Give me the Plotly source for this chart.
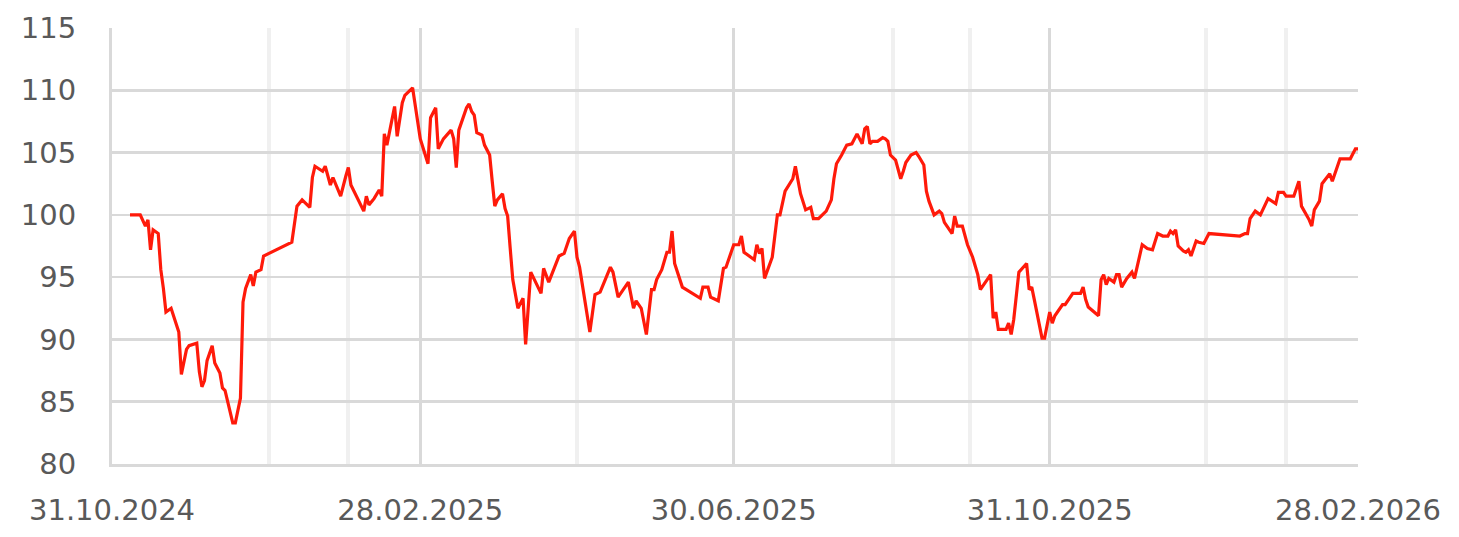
import plotly.graph_objects as go

dates = [
    "2024-11-07", "2024-11-11", "2024-11-13", "2024-11-14", "2024-11-15", "2024-11-16", "2024-11-18", "2024-11-19",
    "2024-11-20", "2024-11-21", "2024-11-23", "2024-11-26", "2024-11-27", "2024-11-29", "2024-11-30", "2024-12-03",
    "2024-12-04", "2024-12-05", "2024-12-06", "2024-12-07", "2024-12-09", "2024-12-10", "2024-12-12", "2024-12-13",
    "2024-12-14", "2024-12-17", "2024-12-18", "2024-12-20", "2024-12-21", "2024-12-22", "2024-12-24", "2024-12-25",
    "2024-12-26", "2024-12-28", "2024-12-29", "2025-01-09", "2025-01-11", "2025-01-13", "2025-01-16", "2025-01-17",
    "2025-01-18", "2025-01-21", "2025-01-22", "2025-01-24", "2025-01-25", "2025-01-28", "2025-01-30", "2025-01-31",
    "2025-02-01", "2025-02-06", "2025-02-07", "2025-02-08", "2025-02-10", "2025-02-12", "2025-02-13", "2025-02-14",
    "2025-02-15", "2025-02-18", "2025-02-19", "2025-02-21", "2025-02-22", "2025-02-25", "2025-02-28", "2025-03-03",
    "2025-03-04", "2025-03-06", "2025-03-07", "2025-03-09", "2025-03-12", "2025-03-13", "2025-03-14", "2025-03-15",
    "2025-03-18", "2025-03-19", "2025-03-20", "2025-03-21", "2025-03-22", "2025-03-24", "2025-03-25", "2025-03-27",
    "2025-03-28", "2025-03-29", "2025-03-30", "2025-04-01", "2025-04-02", "2025-04-03", "2025-04-04", "2025-04-05",
    "2025-04-07", "2025-04-09", "2025-04-10", "2025-04-12", "2025-04-16", "2025-04-17", "2025-04-19", "2025-04-22",
    "2025-04-23", "2025-04-25", "2025-04-27", "2025-04-29", "2025-04-30", "2025-05-01", "2025-05-05", "2025-05-07",
    "2025-05-09", "2025-05-13", "2025-05-14", "2025-05-16", "2025-05-20", "2025-05-22", "2025-05-23", "2025-05-25",
    "2025-05-27", "2025-05-29", "2025-05-30", "2025-05-31", "2025-06-02", "2025-06-04", "2025-06-05", "2025-06-06",
    "2025-06-07", "2025-06-10", "2025-06-17", "2025-06-18", "2025-06-20", "2025-06-21", "2025-06-24", "2025-06-26",
    "2025-06-27", "2025-06-30", "2025-07-02", "2025-07-03", "2025-07-04", "2025-07-08", "2025-07-09", "2025-07-10",
    "2025-07-11", "2025-07-12", "2025-07-15", "2025-07-16", "2025-07-17", "2025-07-18", "2025-07-20", "2025-07-23",
    "2025-07-24", "2025-07-25", "2025-07-26", "2025-07-28", "2025-07-30", "2025-07-31", "2025-08-02", "2025-08-05",
    "2025-08-06", "2025-08-07", "2025-08-08", "2025-08-09", "2025-08-11", "2025-08-13", "2025-08-15", "2025-08-17",
    "2025-08-19", "2025-08-20", "2025-08-21", "2025-08-22", "2025-08-23", "2025-08-25", "2025-08-27", "2025-08-28",
    "2025-08-29", "2025-08-30", "2025-09-01", "2025-09-03", "2025-09-04", "2025-09-05", "2025-09-07", "2025-09-09",
    "2025-09-10", "2025-09-12", "2025-09-13", "2025-09-14", "2025-09-16", "2025-09-18", "2025-09-19", "2025-09-20",
    "2025-09-23", "2025-09-24", "2025-09-25", "2025-09-27", "2025-09-29", "2025-10-01", "2025-10-03", "2025-10-04",
    "2025-10-08", "2025-10-09", "2025-10-10", "2025-10-11", "2025-10-14", "2025-10-15", "2025-10-16", "2025-10-17",
    "2025-10-19", "2025-10-22", "2025-10-23", "2025-10-24", "2025-10-25", "2025-10-26", "2025-10-28", "2025-10-29",
    "2025-10-31", "2025-11-01", "2025-11-02", "2025-11-05", "2025-11-06", "2025-11-09", "2025-11-12", "2025-11-13",
    "2025-11-14", "2025-11-15", "2025-11-19", "2025-11-20", "2025-11-21", "2025-11-22", "2025-11-23", "2025-11-25",
    "2025-11-26", "2025-11-27", "2025-11-28", "2025-11-30", "2025-12-02", "2025-12-03", "2025-12-06", "2025-12-08",
    "2025-12-10", "2025-12-12", "2025-12-14", "2025-12-16", "2025-12-17", "2025-12-18", "2025-12-19", "2025-12-20",
    "2025-12-22", "2025-12-23", "2025-12-24", "2025-12-25", "2025-12-27", "2025-12-28", "2025-12-30", "2026-01-01",
    "2026-01-13", "2026-01-15", "2026-01-16", "2026-01-17", "2026-01-19", "2026-01-21", "2026-01-24", "2026-01-27",
    "2026-01-28", "2026-01-30", "2026-01-31", "2026-02-03", "2026-02-05", "2026-02-06", "2026-02-08", "2026-02-09",
    "2026-02-10", "2026-02-11", "2026-02-13", "2026-02-14", "2026-02-17", "2026-02-18", "2026-02-21", "2026-02-25",
    "2026-02-27", "2026-02-28",
]

values = [
    100.0, 100.0, 99.1, 99.6, 97.2, 98.8, 98.5, 95.6,
    94.1, 92.2, 92.5, 90.6, 87.2, 89.2, 89.5, 89.7,
    87.4, 86.2, 86.7, 88.3, 89.5, 88.1, 87.3, 86.1,
    85.9, 83.3, 83.3, 85.3, 93.0, 94.1, 95.2, 94.3,
    95.4, 95.6, 96.7, 97.8, 100.7, 101.2, 100.6, 103.0,
    103.9, 103.5, 103.9, 102.4, 103.0, 101.5, 103.1, 103.8,
    102.4, 100.3, 101.5, 100.8, 101.3, 102.0, 101.5, 106.5,
    105.6, 108.7, 106.3, 109.0, 109.6, 110.2, 106.1, 104.1,
    107.8, 108.6, 105.3, 106.1, 106.8, 106.1, 103.8, 106.8,
    108.6, 108.9, 108.3, 108.0, 106.6, 106.4, 105.6, 104.8,
    102.7, 100.7, 101.2, 101.7, 100.5, 99.9, 97.3, 94.8,
    92.5, 93.3, 89.6, 95.4, 93.7, 95.7, 94.6, 96.1,
    96.7, 96.9, 98.1, 98.7, 96.6, 95.8, 90.6, 93.6,
    93.8, 95.8, 95.4, 93.4, 94.6, 92.5, 93.1, 92.5,
    90.4, 94.0, 94.0, 94.8, 95.6, 97.0, 97.0, 98.7,
    96.1, 94.2, 93.3, 94.2, 94.2, 93.4, 93.1, 95.7,
    95.8, 97.6, 97.6, 98.3, 97.0, 96.4, 97.6, 96.9,
    97.3, 94.9, 96.6, 98.3, 100.0, 100.0, 101.9, 102.9,
    103.9, 102.8, 101.7, 100.4, 100.6, 99.7, 99.7, 100.3,
    100.8, 101.2, 102.9, 104.1, 104.8, 105.6, 105.7, 106.5,
    105.7, 106.9, 107.1, 105.7, 105.9, 105.9, 106.2, 106.1,
    105.9, 104.8, 104.4, 102.9, 103.5, 104.2, 104.8, 105.0,
    104.7, 104.0, 101.9, 101.1, 100.0, 100.3, 100.1, 99.4,
    98.5, 99.9, 99.1, 99.1, 97.6, 96.6, 95.2, 94.0,
    95.2, 91.7, 92.2, 90.8, 90.8, 91.3, 90.4, 91.6,
    95.4, 96.1, 94.0, 94.2, 93.2, 92.2, 90.1, 90.1,
    92.2, 91.3, 91.9, 92.8, 92.8, 93.7, 93.7, 94.2,
    93.2, 92.6, 91.9, 94.8, 95.2, 94.4, 94.9, 94.6,
    95.2, 95.2, 94.2, 94.9, 95.4, 94.9, 97.6, 97.3,
    97.2, 98.5, 98.3, 98.3, 98.7, 98.5, 98.8, 97.5,
    97.1, 97.0, 97.2, 96.7, 97.9, 97.8, 97.7, 98.5,
    98.3, 98.5, 98.5, 99.7, 100.3, 100.0, 101.3, 100.9,
    101.8, 101.8, 101.5, 101.5, 102.7, 100.7, 100.0, 99.6,
    99.1, 100.4, 101.1, 102.5, 103.3, 102.7, 104.5, 104.5,
    105.3, 105.3,
]

x_major_ticks = ["2024-10-31", "2025-02-28", "2025-06-30", "2025-10-31", "2026-02-28"]
x_major_labels = ["31.10.2024", "28.02.2025", "30.06.2025", "31.10.2025", "28.02.2026"]
x_minor_ticks = ["2024-12-31", "2025-01-31", "2025-04-30", "2025-08-31", "2025-09-30", "2025-12-31", "2026-01-31"]
y_ticks = [80, 85, 90, 95, 100, 105, 110, 115]

fig = go.Figure()
fig.add_trace(go.Scatter(
    x=dates, y=values, mode="lines",
    line=dict(color="#ff1a0a", width=3.2),
    showlegend=False, hoverinfo="skip",
))

font_family = "DejaVu Sans"
fig.update_layout(
    width=1459, height=537,
    margin=dict(l=112, r=101, t=28, b=73),
    paper_bgcolor="white", plot_bgcolor="white",
    font=dict(family=font_family, size=29, color="#595959"),
)
fig.update_xaxes(
    type="date",
    range=["2024-10-31", "2026-02-28"],
    tickmode="array", tickvals=x_major_ticks, ticktext=x_major_labels,
    showgrid=True, gridcolor="#d9d9d9", gridwidth=3,
    minor=dict(tickmode="array", tickvals=x_minor_ticks, showgrid=True,
               gridcolor="#f0f0f0", gridwidth=4, ticks=""),
    showline=True, linecolor="#d9d9d9", linewidth=3,
    ticks="", ticklabelstandoff=18,
    zeroline=False, automargin=False,
    tickfont=dict(family=font_family, size=29, color="#595959"),
)
fig.update_yaxes(
    range=[80, 115],
    tickmode="array", tickvals=y_ticks,
    showgrid=True, gridcolor="#d9d9d9", gridwidth=2.5,
    showline=True, linecolor="#d9d9d9", linewidth=3,
    ticks="", ticklabelstandoff=27,
    zeroline=False, automargin=False,
    tickfont=dict(family=font_family, size=29, color="#595959"),
)

fig.write_html(
    "out.html",
    config={"displayModeBar": False, "staticPlot": True},
    post_script="document.body.style.margin='0';document.body.style.overflow='hidden';",
)
